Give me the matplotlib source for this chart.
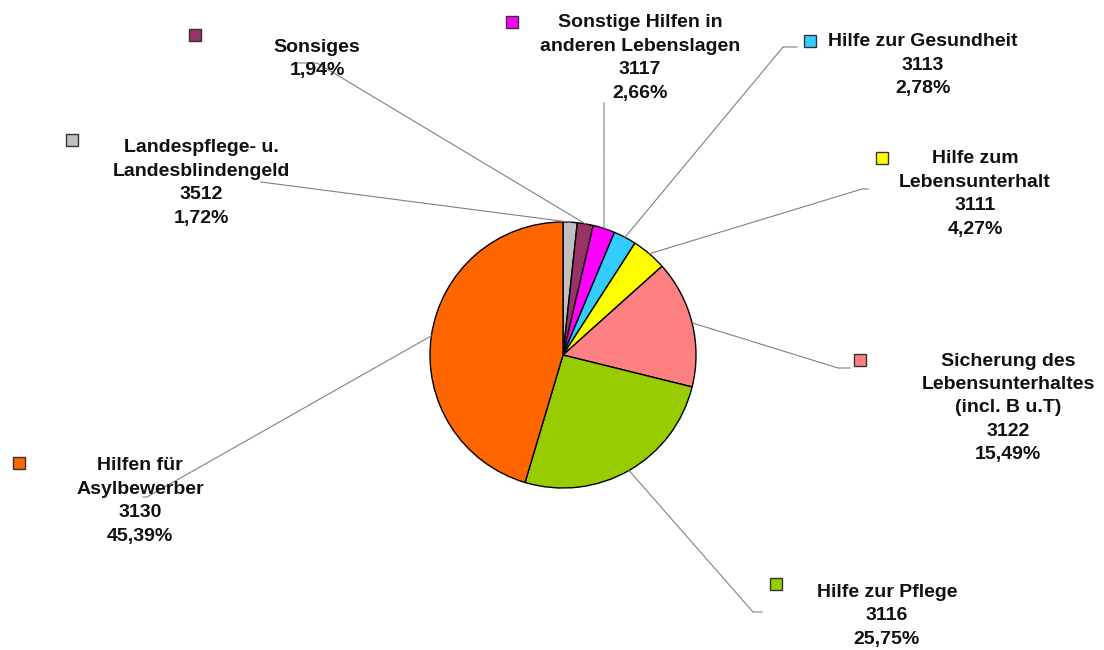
import numpy as np
import matplotlib
matplotlib.use("Agg")
import matplotlib.pyplot as plt

# slices in clockwise order, starting at 12 o'clock
names = ["Landespflege- u.\nLandesblindengeld", "Sonsiges",
         "Sonstige Hilfen in\nanderen Lebenslagen", "Hilfe zur Gesundheit",
         "Hilfe zum\nLebensunterhalt", "Sicherung des\nLebensunterhaltes\n(incl. B u.T)",
         "Hilfe zur Pflege", "Hilfen für\nAsylbewerber"]
codes = ["3512", "", "3117", "3113", "3111", "3122", "3116", "3130"]
shares = [1.72, 1.94, 2.66, 2.78, 4.27, 15.49, 25.75, 45.39]
colors = ["#C0C0C0", "#993366", "#FF00FF", "#33CCFF", "#FFFF00",
          "#FF8080", "#99CC00", "#FF6600"]

# layout in pixel coords (x, y down)
label_xy = [(201, 183), (317, 59), (640, 58), (923, 65),
            (975, 194), (1008, 408), (887, 616), (140, 501)]
marker_xy = [(72, 140), (195, 35), (512, 22), (810, 41),
             (882, 158), (860, 360), (776, 584), (19, 463)]
leader_pts = [[(261, 182)], [(317, 63), (298, 63)], [(604, 103)],
              [(783, 47), (797, 47)], [(862, 189), (868, 189)],
              [(838, 368), (850, 368)], [(753, 612), (762, 612)],
              [(147, 497), (143, 497)]]
center, radius = (563, 355), 133

plt.rcParams["font.family"] = ["Liberation Sans", "DejaVu Sans"]

fig = plt.figure(figsize=(11.04, 6.5), dpi=100)
ax = fig.add_axes([0, 0, 1, 1])

# y axis is inverted below, so counterclock in data = clockwise on screen
wedges, _ = ax.pie(shares, colors=colors, startangle=-90, counterclock=True,
                   center=center, radius=radius,
                   wedgeprops=dict(edgecolor="black", linewidth=1.0))
ax.set_xlim(0, 1104)
ax.set_ylim(650, 0)
ax.set_aspect("equal")
ax.axis("off")

for w, name, code, val, lxy, mxy, pts, col in zip(
        wedges, names, codes, shares, label_xy, marker_xy, leader_pts, colors):
    mid = np.deg2rad((w.theta1 + w.theta2) / 2)
    px = center[0] + radius * np.cos(mid)
    py = center[1] + radius * np.sin(mid)
    xs = [px] + [p[0] for p in pts]
    ys = [py] + [p[1] for p in pts]
    ax.plot(xs, ys, color="#808080", lw=0.8, zorder=1)

    pct = f"{val:.2f}".replace(".", ",") + "%"
    txt = "\n".join([s for s in [name, code, pct] if s])
    ax.text(lxy[0], lxy[1], txt, ha="center", va="center", multialignment="center",
            fontsize=14, fontweight="bold", linespacing=1.5, color="#111111", zorder=3)
    ax.plot(mxy[0], mxy[1], marker="s", markersize=8, markerfacecolor=col,
            markeredgecolor="#333333", markeredgewidth=1.0, zorder=3)

fig.savefig("out.png", dpi=100)
